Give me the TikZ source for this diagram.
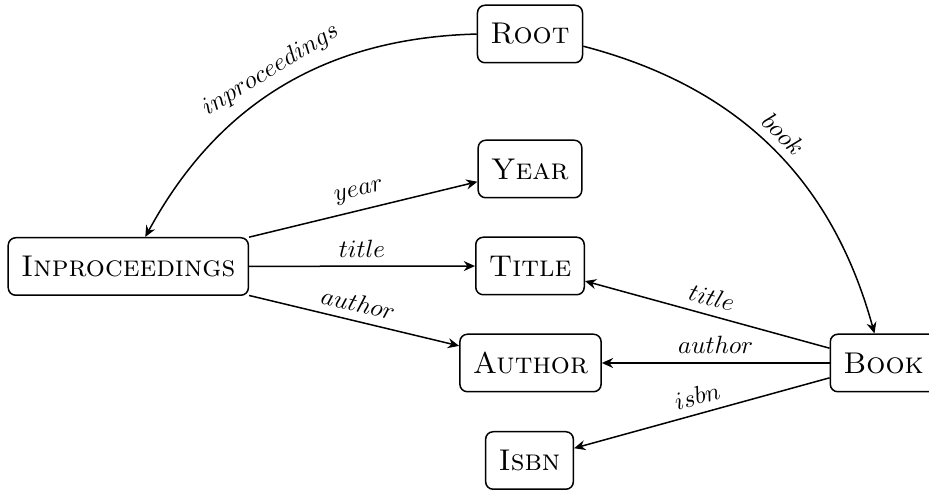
\documentclass[tikz,border=0pt]{standalone}
\usetikzlibrary{arrows.meta}
\begin{document}
\begin{tikzpicture}[x=0.4pt,y=-0.4pt,
  entity/.style={draw, semithick, rounded corners=3pt, minimum height=23pt,
                 inner xsep=5.2pt, font=\large\scshape},
  rel/.style={-{Stealth[length=4.5pt,width=4pt,inset=1.5pt]}, semithick},
  lbl/.style={sloped, above}]
  \useasboundingbox (0,0) rectangle (929,490);

  \node[entity] (root)   at (530,34)    {Root};
  \node[entity] (year)   at (530,169)   {Year};
  \node[entity] (title)  at (530,266)   {Title};
  \node[entity] (author) at (530.5,363) {Author};
  \node[entity] (isbn)   at (529.5,460.5) {Isbn};
  \node[entity] (inproc) at (128.3,266.5) {Inproceedings};
  \node[entity] (book)   at (883.5,363) {Book};

  \draw[rel] (root) to[bend right] node[lbl] {$inproceedings$} (inproc);
  \draw[rel] (root) to[bend left]  node[lbl] {$book$} (book);

  \draw[rel] (inproc) -- node[lbl] {$year$}   (year);
  \draw[rel] (inproc) -- node[lbl] {$title$}  (title);
  \draw[rel] (inproc) -- node[lbl] {$author$} (author);

  \draw[rel] (book) -- node[lbl] {$title$}  (title);
  \draw[rel] (book) -- node[lbl] {$author$} (author);
  \draw[rel] (book) -- node[lbl] {$isbn$}   (isbn);
\end{tikzpicture}
\end{document}
